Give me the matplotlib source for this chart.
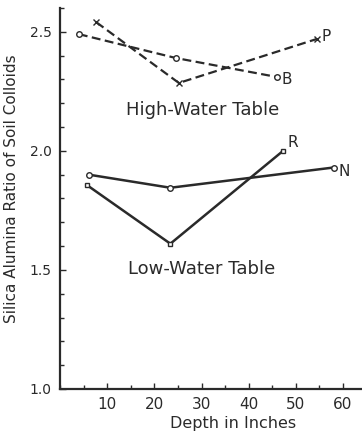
import matplotlib
matplotlib.use("Agg")
import matplotlib.pyplot as plt
from matplotlib.ticker import MultipleLocator, FixedLocator

# Data (depth in inches, silica/alumina ratio)
depth_B = [4, 24.5, 46]
ratio_B = [2.49, 2.39, 2.31]
depth_P = [7.7, 25.2, 54.5]
ratio_P = [2.54, 2.285, 2.47]
depth_N = [6.1, 23.4, 58]
ratio_N = [1.90, 1.845, 1.93]
depth_R = [5.8, 23.4, 47.3]
ratio_R = [1.855, 1.61, 2.0]

ytick_vals = [1.0, 1.5, 2.0, 2.5]
ytick_labels = ["1.0", "1.5", "2.0", "2.5"]
xtick_vals = [10, 20, 30, 40, 50, 60]

ink = "#2a2a2a"
plt.rcParams['font.family'] = ['DejaVu Sans']

fig = plt.figure(figsize=(3.62, 4.36), dpi=100)
ax = fig.add_axes([0.1657, 0.1078, 0.834, 0.874])

dash = dict(linestyle=(0, (4, 2)), linewidth=1.6, color=ink)
solid = dict(linestyle='-', linewidth=1.8, color=ink)

ax.plot(depth_B, ratio_B, marker='o', markersize=4, markerfacecolor='white',
        markeredgecolor=ink, markeredgewidth=1, **dash)
ax.plot(depth_P, ratio_P, marker='x', markersize=4, markeredgecolor=ink,
        markeredgewidth=1, **dash)
ax.plot(depth_N, ratio_N, marker='o', markersize=4, markerfacecolor='white',
        markeredgecolor=ink, markeredgewidth=1, **solid)
ax.plot(depth_R, ratio_R, marker='s', markersize=3.5, markerfacecolor='white',
        markeredgecolor=ink, markeredgewidth=1, **solid)

lab_fs = 11
ax.text(depth_P[-1] + 1.0, ratio_P[-1] + 0.01, "P", fontsize=lab_fs, color=ink,
        ha='left', va='center')
ax.text(depth_B[-1] + 1.0, ratio_B[-1] - 0.01, "B", fontsize=lab_fs, color=ink,
        ha='left', va='center')
ax.text(depth_R[-1] + 1.0, ratio_R[-1] + 0.035, "R", fontsize=lab_fs, color=ink,
        ha='left', va='center')
ax.text(depth_N[-1] + 1.0, ratio_N[-1] - 0.015, "N", fontsize=lab_fs, color=ink,
        ha='left', va='center')

ax.text(30.2, 2.172, "High-Water Table", fontsize=13, color=ink,
        ha='center', va='center')
ax.text(30.0, 1.505, "Low-Water Table", fontsize=13, color=ink,
        ha='center', va='center')

ax.set_xlim(0, 64)
ax.set_ylim(1.0, 2.6)

ax.spines['top'].set_visible(False)
ax.spines['right'].set_visible(False)
for s in ('left', 'bottom'):
    ax.spines[s].set_linewidth(1.6)
    ax.spines[s].set_color(ink)

ax.xaxis.set_major_locator(FixedLocator(xtick_vals))
ax.xaxis.set_minor_locator(MultipleLocator(5))
ax.yaxis.set_major_locator(FixedLocator(ytick_vals))
ax.set_yticklabels(ytick_labels)
ax.yaxis.set_minor_locator(MultipleLocator(0.1))

ax.tick_params(which='both', direction='in', colors=ink)
ax.tick_params(which='major', length=4, width=1)
ax.tick_params(which='minor', length=3, width=1)
ax.tick_params(axis='x', pad=6, labelsize=11)
ax.tick_params(axis='y', pad=6, labelsize=10)

ax.set_xlabel("Depth in Inches", fontsize=11.5, color=ink)
ax.xaxis.set_label_coords(0.573, -0.072)
ax.set_ylabel("Silica Alumina Ratio of Soil Colloids", fontsize=11, color=ink)
ax.yaxis.set_label_coords(-0.136, 0.525)

fig.savefig("out.png", dpi=100)
